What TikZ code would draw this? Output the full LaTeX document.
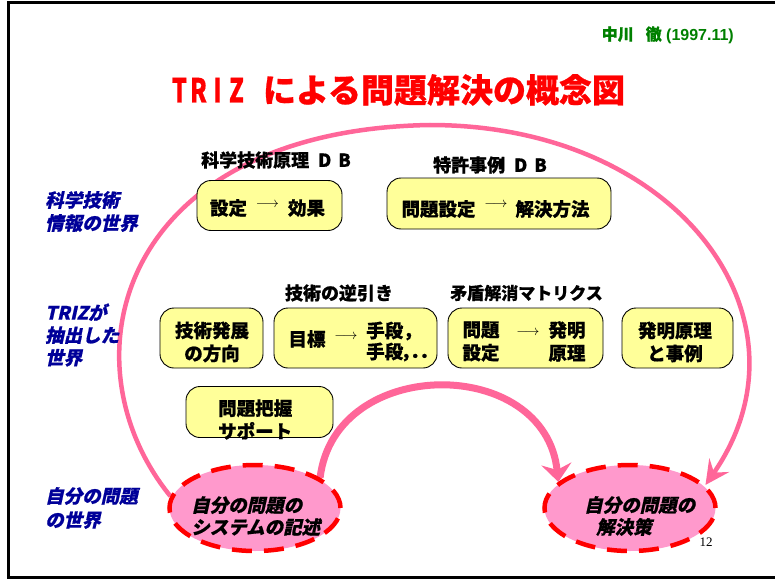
\documentclass[tikz,border=0pt]{standalone}
\usepackage{fontspec}
\setmainfont{Liberation Sans}
\newfontfamily\jp{Noto Sans CJK JP}[BoldFeatures={FakeBold=0.7}]
\newfontfamily\jpit{Noto Sans CJK JP}[FakeSlant=0.22, BoldFeatures={FakeBold=0.7}]
\newfontfamily\serifnum{Liberation Serif}
\usetikzlibrary{shapes.geometric,arrows.meta,backgrounds}
\definecolor{arcpink}{RGB}{255,102,153}
\definecolor{ellpink}{RGB}{255,153,204}
\definecolor{boxyellow}{RGB}{255,255,153}
\definecolor{navyblue}{RGB}{0,0,153}
\definecolor{authgreen}{RGB}{0,128,0}
\newcommand\rar{{\fontsize{15}{15}\selectfont$\longrightarrow$}}
\newcommand\tl[1]{\makebox[19pt]{\scalebox{0.72}[1]{#1}}}
\tikzset{
  box/.style={draw=black, line width=0.9pt, fill=boxyellow, rounded corners=14pt, inner sep=0pt},
  btxt/.style={font=\jp\bfseries\fontsize{18.5}{23}\selectfont, align=center, inner sep=0pt},
  lbl/.style={font=\jp\bfseries\fontsize{18}{22}\selectfont, inner sep=0pt},
  bluelbl/.style={font=\jpit\bfseries\fontsize{18.5}{23}\selectfont, text=navyblue, align=left, inner sep=0pt, anchor=west},
  ell/.style={ellipse, draw=red, fill=ellpink, line width=4.5pt, dash pattern=on 20pt off 12pt, minimum width=171pt, minimum height=86pt, inner sep=0pt},
  etxt/.style={font=\jpit\bfseries\fontsize{18.5}{22}\selectfont, align=left, inner sep=0pt, anchor=west},
  bigarc/.style={draw=arcpink, line width=4.5pt, -{Stealth[length=24pt, width=24pt, inset=9pt]}},
  smallarc/.style={draw=arcpink, line width=7pt, -{Stealth[length=18pt, width=30pt, inset=6pt]}},
  arr/.style={inner sep=0pt}
}
\begin{document}
\begin{tikzpicture}[x=1pt,y=-1pt]
\useasboundingbox (0,0) rectangle (775,580);

% ellipses
\node[ell] (L) at (255,508) {};
\node[ell] (R) at (630,508) {};
\node[etxt] (Lt) at (191,516) {自分の問題の\\システムの記述};
\node[etxt] (Rt) at (584,516) {自分の問題の\\\hspace{12pt}解決策};

% boxes
\node[box, minimum width=145pt, minimum height=50pt] (b1) at (269.5,205.5) {};
\node[box, minimum width=224pt, minimum height=51pt] (b2) at (499,203.5) {};
\node[box, minimum width=103pt, minimum height=60pt] (b3) at (211.5,338) {};
\node[box, minimum width=163pt, minimum height=60pt] (b4) at (355.5,338) {};
\node[box, minimum width=155pt, minimum height=60pt] (b5) at (525.5,338) {};
\node[box, minimum width=111pt, minimum height=60pt] (b6) at (677.5,338) {};
\node[box, minimum width=147pt, minimum height=51pt] (b7) at (259.5,412) {};

% box texts
\node[btxt] (b1a) at (228.5,208) {設定};
\node[arr] (b1r) at (267.5,205) {\rar};
\node[btxt] (b1b) at (306.5,208) {効果};
\node[btxt] (b2a) at (438.5,209) {問題設定};
\node[arr] (b2r) at (496,205) {\rar};
\node[btxt] (b2b) at (552.5,209) {解決方法};
\node[btxt] (b3t) at (212,342) {技術発展\\の方向};
\node[btxt] (b4a) at (307,339) {目標};
\node[arr] (b4r) at (346,337) {\rar};
\node[btxt, anchor=west] (b4b) at (366,331) {手段，};
\node[btxt, anchor=west] (b4c) at (366,352) {手段{\addfontfeatures{RawFeature=+palt}，．．}};
\node[btxt] (b5a) at (481,341.5) {問題\\設定};
\node[arr] (b5r) at (528,333) {\rar};
\node[btxt] (b5b) at (567,341.5) {発明\\原理};
\node[btxt] (b6t) at (675,342) {発明原理\\と事例};
\node[btxt, align=left, anchor=west] (b7t) at (218,419.5) {問題把握\\サポート};

% labels
\node[lbl] (lab1) at (276,160) {科学技術原理\hspace{9pt}D\hspace{7pt}B};
\node[lbl] (lab2) at (490,165) {特許事例\hspace{9pt}D\hspace{7pt}B};
\node[lbl] (lab3) at (339,293) {技術の逆引き};
\node[lbl, font=\jp\bfseries\fontsize{17}{20}\selectfont] (lab4) at (526.5,293) {矛盾解消マトリクス};

% blue world labels
\node[bluelbl] (w1) at (45,211.5) {科学技術\\情報の世界};
\node[bluelbl, font=\jpit\bfseries\fontsize{18.5}{22.5}\selectfont] (w2) at (45,335) {TRIZが\\抽出した\\世界};
\node[bluelbl, font=\jpit\bfseries\fontsize{18.5}{24}\selectfont] (w3) at (45,508) {自分の問題\\の世界};

% title and author
\node[inner sep=0pt, text=red, font=\jp\bfseries\fontsize{33}{36}\selectfont] (title) at (397.5,90)
  {\tl{T}\tl{R}\tl{I}\tl{Z}\hspace{17pt}による問題解決の概念図};
\node[inner sep=0pt, anchor=east, text=authgreen, font=\bfseries\fontsize{16}{18}\selectfont] (auth) at (734,35)
  {{\jp\bfseries 中川\hspace{12pt}徹} (1997.11)};
\node[inner sep=0pt, font=\serifnum\fontsize{13}{13}\selectfont] (pg) at (706,542) {12};

% arcs and frame behind
\begin{scope}[on background layer]
  \fill[white] (0,0) rectangle (775,580);
  \draw[line width=3pt] (778,2.5) -- (8,2.5) -- (8,577.5) -- (778,577.5);
  \coordinate (top) at (430,125);
  \draw[bigarc] (L.172) .. controls (60,360) and (120,130) .. (top)
                        .. controls (680,125) and (820,320) .. (R.17);
  \draw[smallarc] (L.25) .. controls (335,355) and (545,355) .. (R.160);
\end{scope}
\end{tikzpicture}
\end{document}
